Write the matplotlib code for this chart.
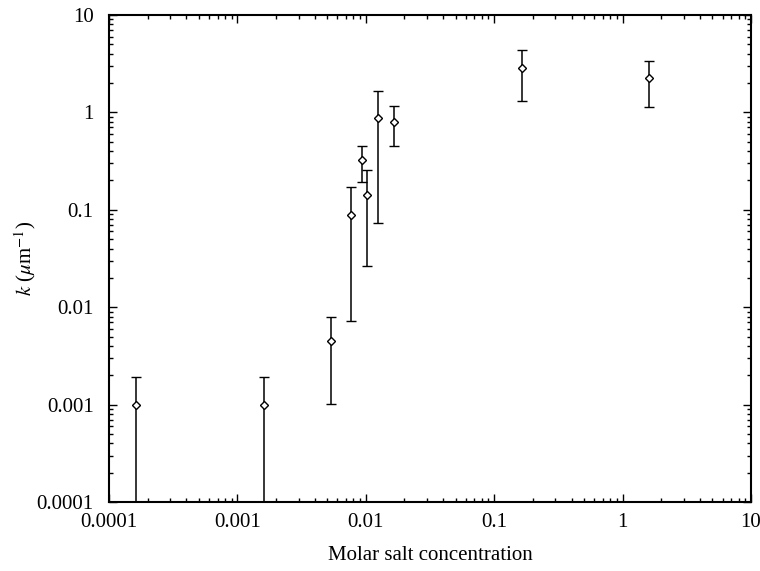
import numpy as np
import matplotlib
matplotlib.use("Agg")
import matplotlib.pyplot as plt
from matplotlib.ticker import FixedLocator, LogLocator, NullFormatter, FuncFormatter

# data (molar salt concentration vs k in 1/um)
conc     = [0.000162, 0.0016, 0.00536, 0.0077, 0.00933, 0.0103, 0.0125, 0.0167, 0.164, 1.61]
k        = [0.001,    0.001,  0.00453, 0.0885, 0.322,   0.143,  0.883,  0.797,  2.84,  2.24]
k_upper  = [0.0019,   0.0019, 0.0080,  0.170,  0.449,   0.258,  1.66,   1.15,   4.37,  3.35]
k_lower  = [1e-6,     1e-6,   0.00101, 0.0072, 0.193,   0.0263, 0.074,  0.455,  1.31,  1.13]

tick_vals   = [0.0001, 0.001, 0.01, 0.1, 1, 10]
tick_labels = ['0.0001', '0.001', '0.01', '0.1', '1', '10']

plt.rcParams['font.family'] = ['Liberation Serif', 'DejaVu Serif']
plt.rcParams['mathtext.fontset'] = 'stix'

fig = plt.figure(figsize=(7.6, 5.71), dpi=100)
ax = fig.add_axes([109/760, 69/571, 642/760, 487/571])

k = np.array(k)
yerr = np.array([k - np.array(k_lower), np.array(k_upper) - k])
ax.errorbar(conc, k, yerr=yerr, fmt='D', ms=4, mfc='white', mec='black', mew=1.0,
            ecolor='black', elinewidth=1.1, capsize=3.5, capthick=1.1, color='black')

ax.set_xscale('log')
ax.set_yscale('log')
ax.set_xlim(1e-4, 10)
ax.set_ylim(1e-4, 10)

fmt = FuncFormatter(lambda v, p: dict(zip(tick_vals, tick_labels)).get(v, ''))
for axis in (ax.xaxis, ax.yaxis):
    axis.set_major_locator(FixedLocator(tick_vals))
    axis.set_major_formatter(fmt)
    axis.set_minor_locator(LogLocator(base=10, subs=np.arange(2, 10)))
    axis.set_minor_formatter(NullFormatter())

ax.tick_params(which='both', direction='in', top=True, right=True, labelsize=15, width=1.0)
ax.tick_params(which='major', length=6)
ax.tick_params(which='minor', length=3)
ax.tick_params(axis='x', which='major', pad=8)
ax.tick_params(axis='y', which='major', pad=11)
for s in ax.spines.values():
    s.set_linewidth(1.5)

ax.set_xlabel('Molar salt concentration', fontsize=15, labelpad=10)
ax.set_ylabel(r'$k$ ($\mu$m$^{-1}$)', fontsize=15)
ax.yaxis.set_label_coords(-0.11, 0.5)

fig.savefig('out.png', dpi=100)
